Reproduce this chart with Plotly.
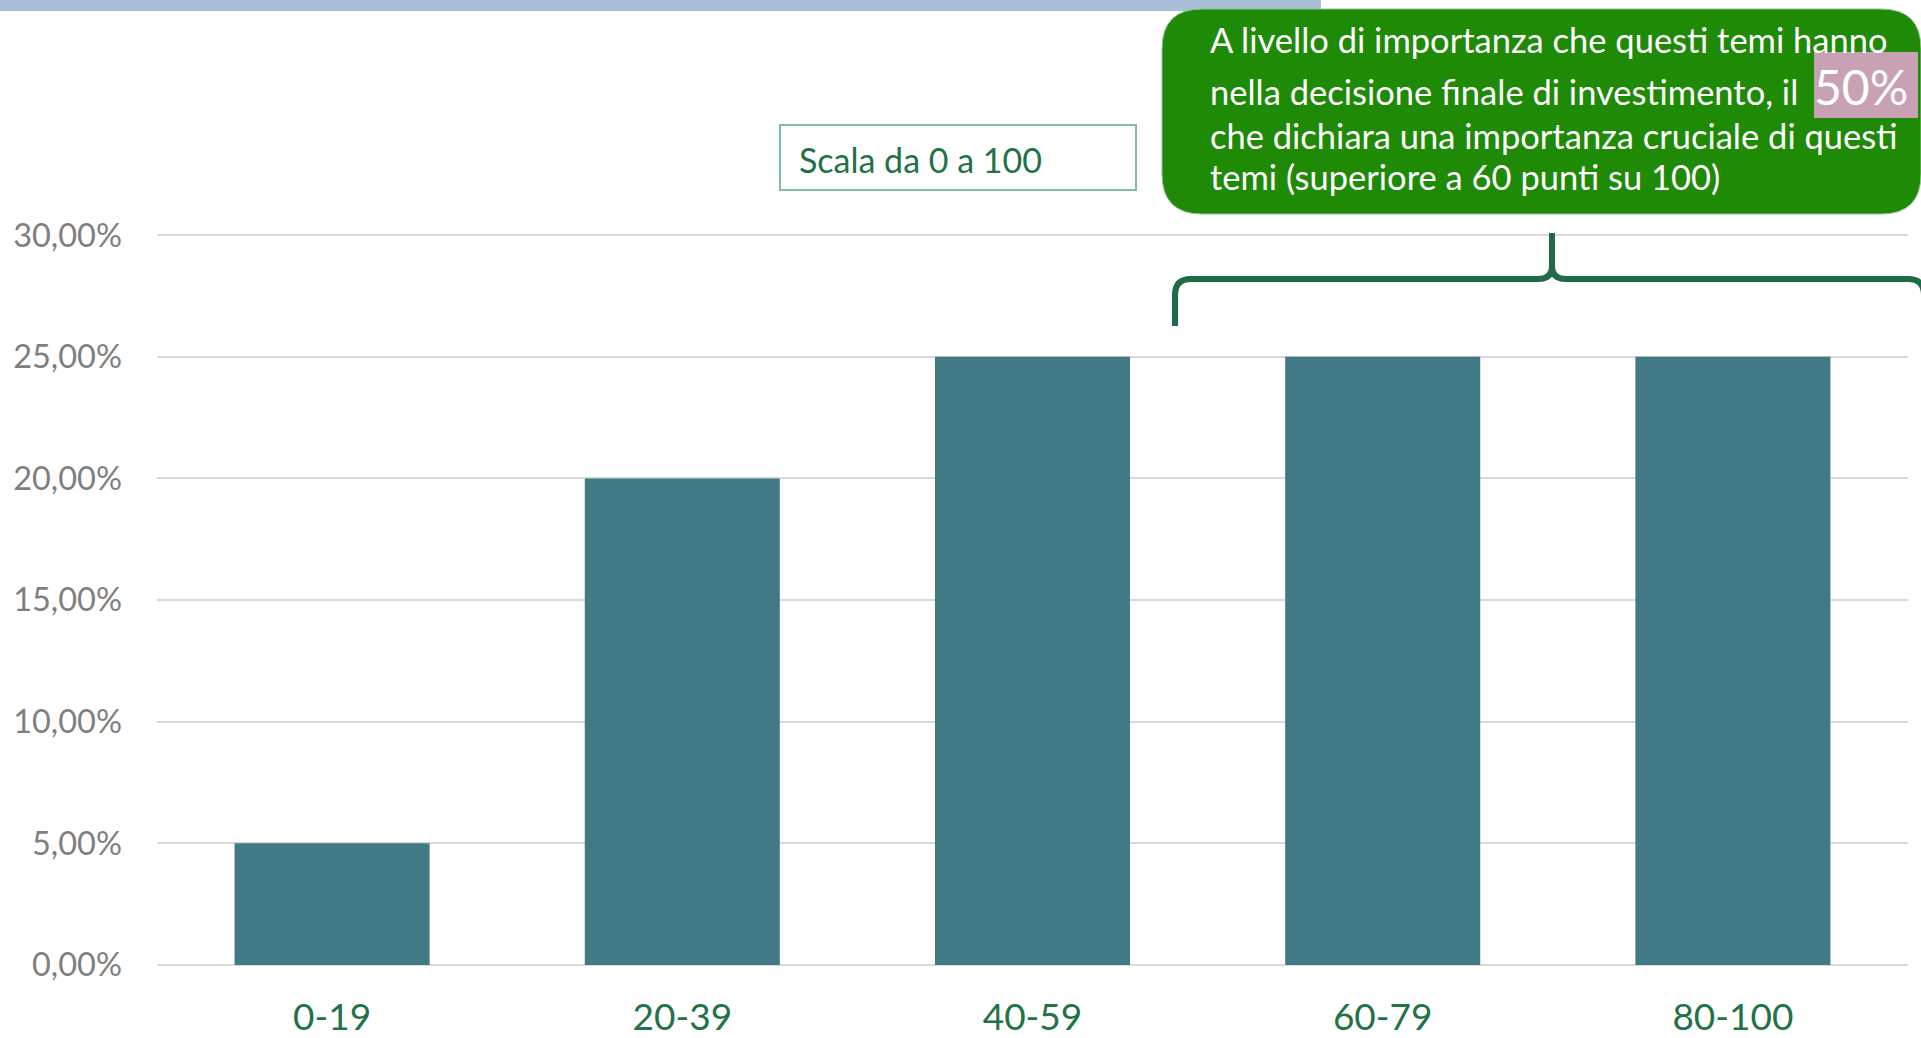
import plotly.graph_objects as go

categories = ["0-19", "20-39", "40-59", "60-79", "80-100"]
values = [0.05, 0.20, 0.25, 0.25, 0.25]
y_ticks = [0, 0.05, 0.10, 0.15, 0.20, 0.25, 0.30]

callout_lines = [
    "A livello di importanza che questi temi hanno",
    "nella decisione finale di investimento, il",
    "che dichiara una importanza cruciale di questi",
    "temi (superiore a 60 punti su 100)",
]
highlight = "50%"
scale_label = "Scala da 0 a 100"

W, H = 1921, 1038
L, R, T, B = 157, 1908, 234, 965
FONT = "Lato, Carlito, Calibri, sans-serif"
GREEN_TXT = "#217346"


def px(x):
    return (x - L) / (R - L)


def py(y):
    return (B - y) / (B - T)


fig = go.Figure(go.Bar(
    x=categories, y=values, marker=dict(color="#417A84", line=dict(width=0)),
    hoverinfo="skip",
))

shapes = []
# top blue strip
shapes.append(dict(type="rect", xref="paper", yref="paper",
                   x0=px(0), x1=px(1321), y0=py(0), y1=py(11),
                   fillcolor="#A9BFD8", line=dict(width=0), layer="above"))


def rounded_path(x0, y0, x1, y1, r):
    pts = [
        ("M", x0 + r, y0), ("L", x1 - r, y0), ("Q", x1, y0, x1, y0 + r),
        ("L", x1, y1 - r), ("Q", x1, y1, x1 - r, y1), ("L", x0 + r, y1),
        ("Q", x0, y1, x0, y1 - r), ("L", x0, y0 + r), ("Q", x0, y0, x0 + r, y0),
    ]
    s = ""
    for p in pts:
        if p[0] == "Q":
            s += f"Q{px(p[1])},{py(p[2])} {px(p[3])},{py(p[4])} "
        else:
            s += f"{p[0]}{px(p[1])},{py(p[2])} "
    return s + "Z"


# callout box
shapes.append(dict(type="path", xref="paper", yref="paper",
                   path=rounded_path(1162, 9, 1921, 214, 40),
                   fillcolor="#1E8A06", line=dict(color="#8FC48F", width=1), layer="above"))
# pink highlight
shapes.append(dict(type="rect", xref="paper", yref="paper",
                   x0=px(1814), x1=px(1918), y0=py(118), y1=py(52),
                   fillcolor="#C9A1B5", line=dict(width=0), layer="above"))
# scale box
shapes.append(dict(type="rect", xref="paper", yref="paper",
                   x0=px(780), x1=px(1136), y0=py(190), y1=py(125),
                   fillcolor="white", line=dict(color="#7FBF9F", width=2), layer="above"))


# brace
def P(x, y):
    return f"{px(x)},{py(y)}"


brace = (f"M{P(1175, 326)} L{P(1175, 295)} Q{P(1175, 279)} {P(1191, 279)} "
         f"L{P(1538, 279)} Q{P(1552, 279)} {P(1552, 266)} L{P(1552, 233)} "
         f"M{P(1552, 266)} Q{P(1552, 279)} {P(1566, 279)} "
         f"L{P(1908, 279)} Q{P(1924, 279)} {P(1924, 295)} L{P(1924, 330)}")
shapes.append(dict(type="path", xref="paper", yref="paper", path=brace,
                   line=dict(color="#1F6B46", width=6), layer="above"))

annotations = []
line_y = [39, 91, 136, 176]
for txt, yy in zip(callout_lines, line_y):
    annotations.append(dict(xref="paper", yref="paper", x=px(1208), y=py(yy),
                            xanchor="left", yanchor="middle", showarrow=False, text=txt,
                            font=dict(family=FONT, size=34.5, color="white")))
annotations.append(dict(xref="paper", yref="paper", x=px(1861), y=py(86),
                        xanchor="center", yanchor="middle", showarrow=False, text=highlight,
                        font=dict(family=FONT, size=48, color="white")))
annotations.append(dict(xref="paper", yref="paper", x=px(797), y=py(159),
                        xanchor="left", yanchor="middle", showarrow=False, text=scale_label,
                        font=dict(family=FONT, size=34, color=GREEN_TXT)))

fig.update_layout(
    width=W, height=H,
    margin=dict(l=L, r=W - R, t=T, b=H - B, pad=0, autoexpand=False),
    paper_bgcolor="white", plot_bgcolor="white",
    separators=",.",
    bargap=0.443,
    showlegend=False,
    shapes=shapes,
    annotations=annotations,
    xaxis=dict(showgrid=False, showline=False, ticks="", zeroline=False,
               tickfont=dict(family=FONT, size=37, color=GREEN_TXT),
               ticklabelstandoff=27, fixedrange=True, automargin=False),
    yaxis=dict(range=[0, 0.3005], tickvals=y_ticks, tickformat=".2%",
               showgrid=True, gridcolor="#D9D9D9", gridwidth=2,
               zeroline=True, zerolinecolor="#D9D9D9", zerolinewidth=2,
               showline=False, ticks="",
               tickfont=dict(family=FONT, size=32.5, color="#7F7F7F"),
               ticklabelstandoff=34, fixedrange=True, automargin=False),
)

fig.write_html("out.html", config={"displayModeBar": False})
